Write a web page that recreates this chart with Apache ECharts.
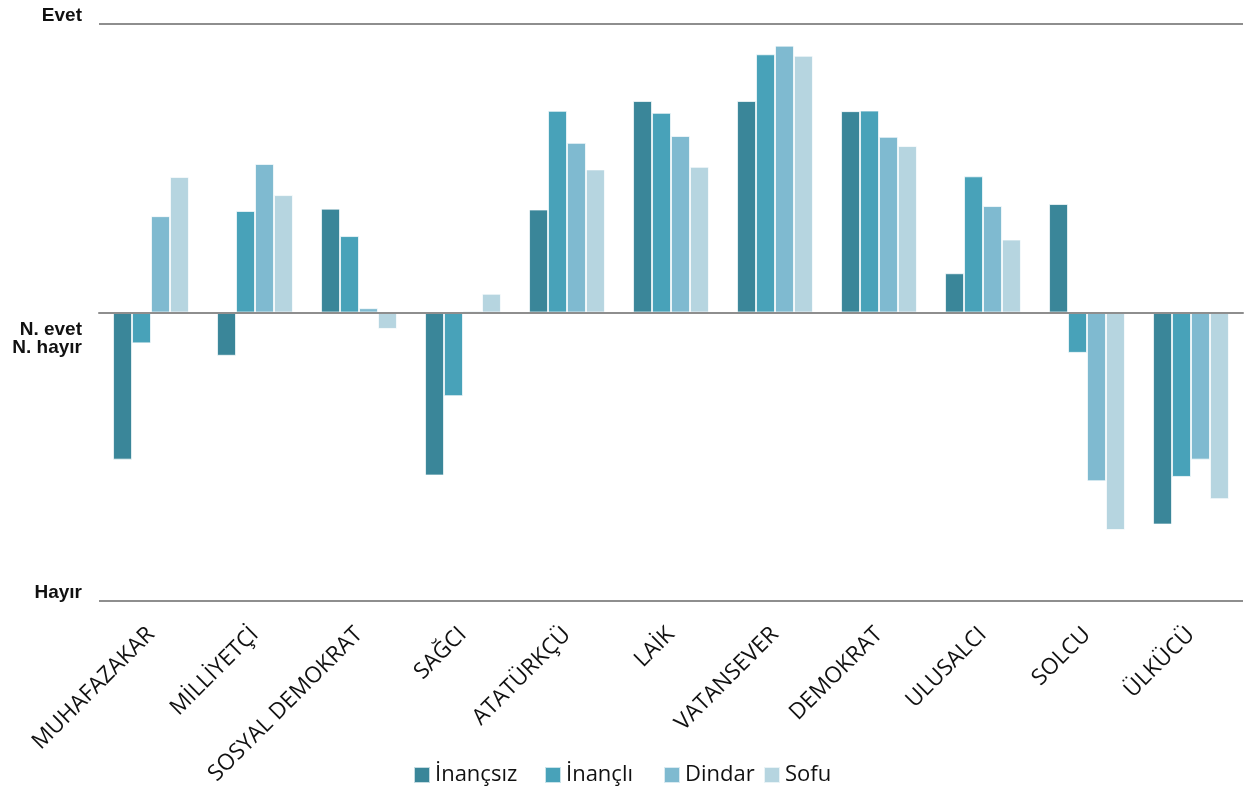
<!DOCTYPE html>
<html>
<head>
<meta charset="utf-8">
<script src="https://cdn.jsdelivr.net/npm/echarts@6/dist/echarts.min.js"></script>
<style>
	html, body { margin: 0; padding: 0; background: #fff; }
	#main { width: 1251px; height: 791px; }
</style>
</head>
<body>
<div id="main"></div>
<script>
// kategoriler ve seriler
var categories = ['MUHAFAZAKAR', 'MİLLİYETÇİ', 'SOSYAL DEMOKRAT', 'SAĞCI', 'ATATÜRKÇÜ', 'LAİK',
	'VATANSEVER', 'DEMOKRAT', 'ULUSALCI', 'SOLCU', 'ÜLKÜCÜ'];
var seriesNames = ['İnançsız', 'İnançlı', 'Dindar', 'Sofu'];
var inancsiz = [-0.51, -0.15, 0.36, -0.565, 0.357, 0.733, 0.733, 0.698, 0.136, 0.376, -0.735];
var inancli = [-0.107, 0.352, 0.265, -0.29, 0.699, 0.692, 0.895, 0.70, 0.472, -0.14, -0.57];
var dindar = [0.334, 0.515, 0.015, 0.005, 0.588, 0.612, 0.925, 0.609, 0.369, -0.585, -0.51];
var sofu = [0.47, 0.407, -0.057, 0.065, 0.496, 0.505, 0.89, 0.577, 0.253, -0.754, -0.647];
var yTickNames = { '1': 'Evet', '0': 'N. evet\nN. hayır', '-1': 'Hayır' };

var colors = ['#3a8699', '#48a2b9', '#7fbad0', '#b6d5e0'];
var legendLefts = [408, 539, 658, 758];

function echartsMain() {
	var myChart = echarts.init(document.getElementById('main'));
	var allData = [inancsiz, inancli, dindar, sofu];
	var series = [];
	var legends = [];
	for (var i = 0; i < seriesNames.length; i++) {
		series.push({
			name: seriesNames[i],
			type: 'bar',
			data: allData[i],
			barGap: '0%',
			barCategoryGap: '27%',
			itemStyle: {
				color: colors[i],
				borderColor: 'rgba(255,255,255,0.7)',
				borderWidth: 1
			}
		});
		// excel legend spacing is uneven, so one legend per item
		legends.push({
			left: legendLefts[i],
			top: 759,
			itemWidth: 16,
			itemHeight: 16,
			icon: 'rect',
			selectedMode: false,
			textStyle: {
				fontFamily: 'Open Sans',
				fontSize: 22,
				color: '#111'
			},
			data: [seriesNames[i]]
		});
	}
	var option = {
		backgroundColor: '#ffffff',
		animation: false,
		color: colors,
		grid: {
			left: 99,
			right: 8,
			top: 24,
			bottom: 190
		},
		legend: legends,
		xAxis: {
			type: 'category',
			data: categories,
			z: 5,
			axisLine: {
				show: true,
				onZero: true,
				lineStyle: { color: '#8e8e8e', width: 2 }
			},
			axisTick: { show: false },
			axisLabel: {
				rotate: 45,
				interval: 0,
				margin: 30,
				fontFamily: 'Open Sans',
				fontSize: 22.5,
				color: '#111'
			}
		},
		yAxis: [{
			type: 'value',
			min: -1,
			max: 1,
			interval: 1,
			axisLine: { show: false },
			axisTick: { show: false },
			splitLine: {
				lineStyle: { color: '#8e8e8e', width: 2 }
			},
			axisLabel: {
				margin: 17,
				verticalAlign: 'bottom',
				lineHeight: 16,
				fontFamily: 'Liberation Sans',
				fontWeight: 'bold',
				fontSize: 19,
				color: '#111',
				formatter: function (v) {
					return v === 0 ? '' : yTickNames[String(v)];
				}
			}
		}, {
			type: 'value',
			position: 'left',
			min: -1,
			max: 1,
			interval: 1,
			axisLine: { show: false },
			axisTick: { show: false },
			splitLine: { show: false },
			axisLabel: {
				margin: 17,
				verticalAlign: 'top',
				lineHeight: 18,
				padding: [8, 0, 0, 0],
				fontFamily: 'Liberation Sans',
				fontWeight: 'bold',
				fontSize: 19,
				color: '#111',
				formatter: function (v) {
					return v === 0 ? yTickNames['0'] : '';
				}
			}
		}],
		series: series
	};
	myChart.setOption(option);
}
echartsMain();
</script>
</body>
</html>
